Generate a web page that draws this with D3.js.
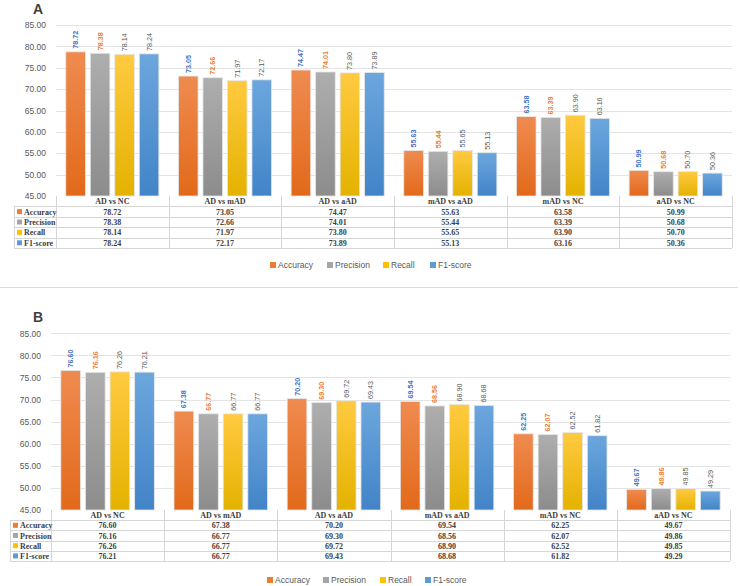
<!DOCTYPE html>
<html>
<head>
<meta charset="utf-8">
<script src="https://cdn.jsdelivr.net/npm/d3@7"></script>
<style>
  html, body { margin: 0; padding: 0; background: #fff; }
  svg { display: block; }
</style>
</head>
<body>
<svg id="chart" width="740" height="586"></svg>
<script>
// ---------- DATA ----------
const categories = ["AD vs NC", "AD vs mAD", "AD vs aAD", "mAD vs aAD", "mAD vs NC", "aAD vs NC"];
const seriesNames = ["Accuracy", "Precision", "Recall", "F1-score"];

const accuracyA  = [78.72, 73.05, 74.47, 55.63, 63.58, 50.99];
const precisionA = [78.38, 72.66, 74.01, 55.44, 63.39, 50.68];
const recallA    = [78.14, 71.97, 73.80, 55.65, 63.90, 50.70];
const f1A        = [78.24, 72.17, 73.89, 55.13, 63.16, 50.36];

const accuracyB  = [76.60, 67.38, 70.20, 69.54, 62.25, 49.67];
const precisionB = [76.16, 66.77, 69.30, 68.56, 62.07, 49.86];
const recallB    = [76.26, 66.77, 69.72, 68.90, 62.52, 49.85];
const f1B        = [76.21, 66.77, 69.43, 68.68, 61.82, 49.29];

const yTicks = [45, 50, 55, 60, 65, 70, 75, 80, 85];

// ---------- STYLE ----------
const barTop    = ["#EF8B50", "#AEAEAE", "#FFCA40", "#6CA6DD"];
const barBottom = ["#E2691A", "#8C8C8C", "#E4B200", "#4284C8"];
const swatch    = ["#ED7D31", "#A5A5A5", "#FFC000", "#5B9BD5"];
const labelColor = ["#4472C4", "#ED7D31", "#595959", "#595959"];
const sans = "'Liberation Sans', Arial, sans-serif";
const serif = "'Liberation Serif', 'Times New Roman', serif";

const svg = d3.select("#chart");
const defs = svg.append("defs");
seriesNames.forEach((s, i) => {
  const g = defs.append("linearGradient").attr("id", "grad" + i)
    .attr("x1", 0).attr("y1", 0).attr("x2", 0).attr("y2", 1);
  g.append("stop").attr("offset", "0%").attr("stop-color", barTop[i]);
  g.append("stop").attr("offset", "100%").attr("stop-color", barBottom[i]);
});

function drawPanel(p) {
  const g = svg.append("g");
  const values = p.values;

  const x0 = d3.scaleBand().domain(categories).range([p.left, p.right]);
  const x1 = d3.scaleBand().domain(seriesNames).range([0, x0.bandwidth()])
    .paddingInner(0.2).paddingOuter(0.4);
  const y = d3.scaleLinear().domain([45, 85]).range([p.bottom, p.top]);

  // panel letter
  g.append("text").attr("x", p.letterX).attr("y", p.letterY)
    .attr("font-family", sans).attr("font-weight", "bold").attr("font-size", 14)
    .attr("fill", "#3f3f3f").text(p.letter);

  // gridlines
  g.append("g").selectAll("line").data(yTicks.filter(t => t > 45)).join("line")
    .attr("x1", p.left).attr("x2", p.right)
    .attr("y1", d => Math.round(y(d)) + 0.5).attr("y2", d => Math.round(y(d)) + 0.5)
    .attr("stroke", "#e4e4e4").attr("stroke-width", 1);

  // y axis
  const yAxis = d3.axisLeft(y).tickValues(yTicks).tickFormat(d3.format(".2f")).tickSize(0).tickPadding(10);
  const ya = g.append("g").attr("transform", `translate(${p.left},0)`).call(yAxis);
  ya.select(".domain").remove();
  ya.selectAll("text").attr("font-family", sans).attr("font-size", 8.5).attr("fill", "#595959");

  // bars
  const groups = g.append("g").selectAll("g").data(categories).join("g")
    .attr("transform", d => `translate(${x0(d)},0)`);
  groups.selectAll("rect").data((c, ci) => seriesNames.map((s, si) => ({ s, si, v: values[si][ci] })))
    .join("rect")
    .attr("x", d => x1(d.s))
    .attr("width", x1.bandwidth())
    .attr("y", d => y(d.v))
    .attr("height", d => y(45) - y(d.v))
    .attr("fill", d => `url(#grad${d.si})`)
    .attr("stroke", "#e6e6e6").attr("stroke-width", 0.8);

  // value labels (rotated)
  groups.selectAll("text").data((c, ci) => seriesNames.map((s, si) => ({ s, si, v: values[si][ci] })))
    .join("text")
    .attr("transform", d => `translate(${x1(d.s) + x1.bandwidth() / 2 + 2.5},${y(d.v) - 3}) rotate(-90)`)
    .attr("font-family", sans).attr("font-size", 7.2)
    .attr("font-weight", d => d.si < 2 ? "bold" : "normal")
    .attr("fill", d => labelColor[d.si])
    .text(d => d.v.toFixed(2));

  // data table
  const t = g.append("g");
  const rowH = p.rowH;
  const tTop = p.bottom;
  const nRows = 5;
  const tBottom = tTop + rowH * nRows;
  const lineColor = "#d6d6d6";
  // horizontal lines
  for (let r = 1; r <= nRows; r++) {
    t.append("line").attr("x1", p.tableLeft).attr("x2", p.right)
      .attr("y1", Math.round(tTop + r * rowH) + 0.5).attr("y2", Math.round(tTop + r * rowH) + 0.5)
      .attr("stroke", lineColor);
  }
  // vertical lines
  const vx = [p.left].concat(categories.map(c => x0(c) + x0.bandwidth()));
  vx.forEach(xv => {
    t.append("line").attr("x1", Math.round(xv) + 0.5).attr("x2", Math.round(xv) + 0.5)
      .attr("y1", tTop).attr("y2", tBottom).attr("stroke", lineColor);
  });
  t.append("line").attr("x1", p.tableLeft + 0.5).attr("x2", p.tableLeft + 0.5)
    .attr("y1", tTop + rowH).attr("y2", tBottom).attr("stroke", lineColor);

  // header
  t.selectAll("text.hdr").data(categories).join("text").attr("class", "hdr")
    .attr("x", d => x0(d) + x0.bandwidth() / 2).attr("y", tTop + rowH / 2 + 3)
    .attr("text-anchor", "middle").attr("font-family", serif).attr("font-weight", "bold")
    .attr("font-size", 8).attr("fill", "#404040").text(d => d);

  seriesNames.forEach((s, si) => {
    const cy = tTop + rowH * (si + 1) + rowH / 2;
    t.append("rect").attr("x", p.tableLeft + 3).attr("y", cy - 2.5).attr("width", 5).attr("height", 5)
      .attr("fill", swatch[si]);
    t.append("text").attr("x", p.tableLeft + 10).attr("y", cy + 3)
      .attr("font-family", serif).attr("font-weight", "bold").attr("font-size", 8)
      .attr("fill", "#404040").text(s);
    t.selectAll("text.v" + si).data(categories).join("text").attr("class", "v" + si)
      .attr("x", d => x0(d) + x0.bandwidth() / 2).attr("y", cy + 3)
      .attr("text-anchor", "middle").attr("font-family", serif).attr("font-weight", "bold")
      .attr("font-size", 8).attr("fill", "#404040")
      .text((d, ci) => values[si][ci].toFixed(2));
  });

  // legend
  const lg = g.append("g");
  seriesNames.forEach((s, si) => {
    const lx = p.legendX[si];
    lg.append("rect").attr("x", lx).attr("y", p.legendY - 3).attr("width", 6).attr("height", 6)
      .attr("fill", swatch[si]);
    lg.append("text").attr("x", lx + 8).attr("y", p.legendY + 3)
      .attr("font-family", sans).attr("font-size", 8.5).attr("fill", "#595959").text(s);
  });
}

drawPanel({
  letter: "A", letterX: 33, letterY: 14,
  values: [accuracyA, precisionA, recallA, f1A],
  left: 56, right: 732, top: 25, bottom: 196,
  tableLeft: 14, rowH: 10.4,
  legendX: [270, 327, 383, 430], legendY: 265
});

svg.append("line").attr("x1", 0).attr("x2", 738).attr("y1", 287.5).attr("y2", 287.5)
  .attr("stroke", "#dcdcdc");

drawPanel({
  letter: "B", letterX: 33, letterY: 322,
  values: [accuracyB, precisionB, recallB, f1B],
  left: 51, right: 730, top: 333.3, bottom: 510,
  tableLeft: 10, rowH: 10.2,
  legendX: [267, 323, 380, 425], legendY: 580
});
</script>
</body>
</html>
